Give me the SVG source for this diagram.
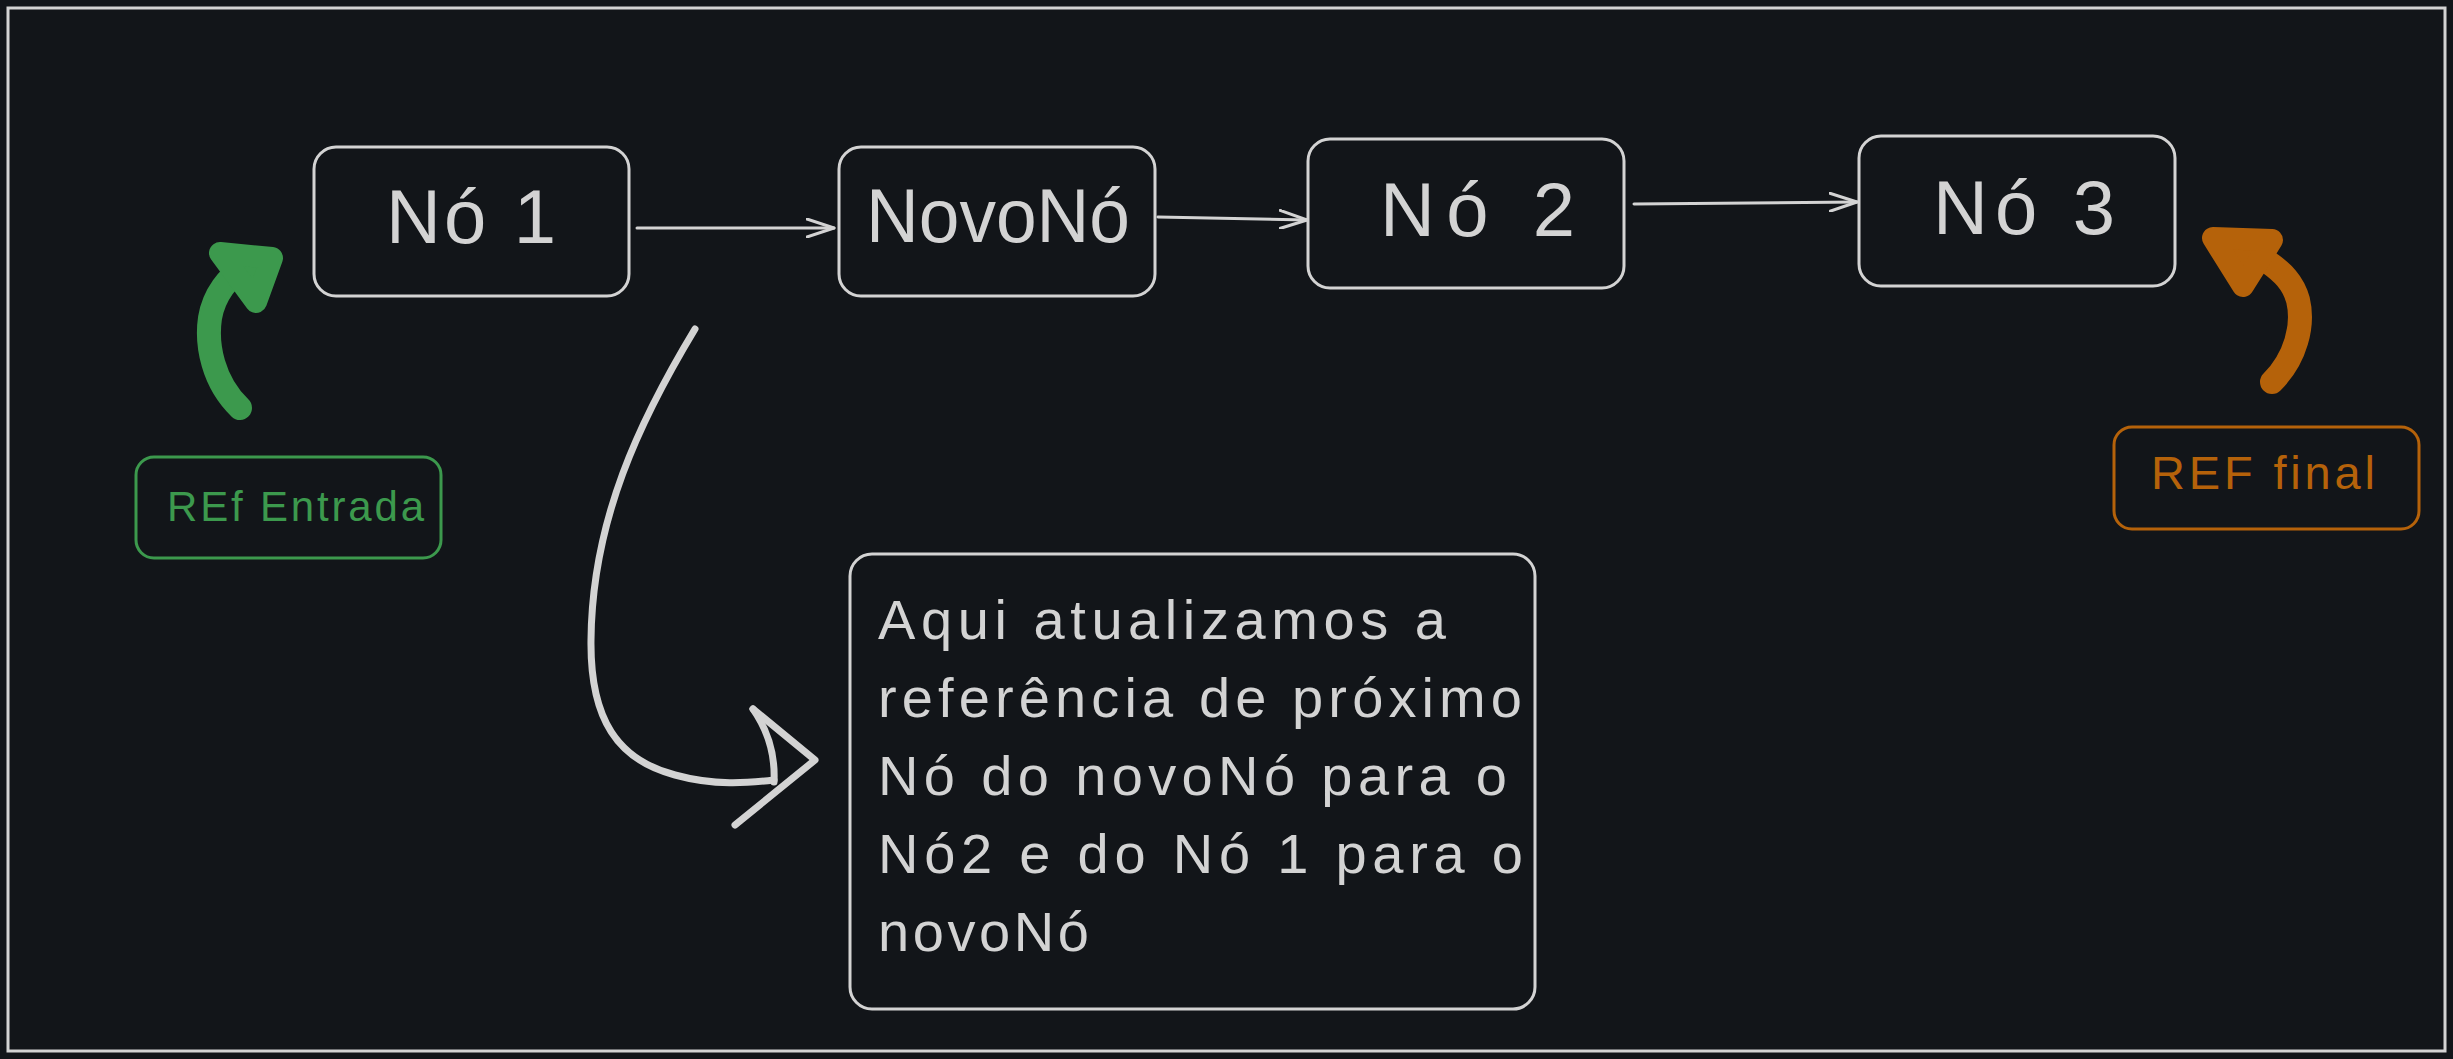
<svg xmlns="http://www.w3.org/2000/svg" width="2453" height="1059" viewBox="0 0 2453 1059">
  <defs>
    <style>
      .node { fill: #121519; stroke: #d3d3d3; stroke-width: 3; }
      .lbl { font-family: "Liberation Sans", Arial, sans-serif; fill: #d3d3d3; }
      .big { font-size: 76px; }
      .note { font-size: 56px; }
      .conn { fill: none; stroke: #d3d3d3; stroke-width: 3; stroke-linecap: round; }
      .thick { fill: none; stroke: #d3d3d3; stroke-width: 7; stroke-linecap: round; stroke-linejoin: round; }
    </style>
    <marker id="open" viewBox="0 0 30 20" refX="28" refY="10" markerWidth="30" markerHeight="20" markerUnits="userSpaceOnUse" orient="auto">
      <path d="M1,1 L28,10 L1,19" fill="none" stroke="#d3d3d3" stroke-width="3" stroke-linecap="round" stroke-linejoin="round"/>
    </marker>
  </defs>
  <rect x="0" y="0" width="2453" height="1059" fill="#121519"/>
  <rect x="8" y="8" width="2437" height="1043" fill="none" stroke="#d3d3d3" stroke-width="3"/>

  <g id="connectors">
    <path class="conn" d="M637,228 L834,228" marker-end="url(#open)"/>
    <path class="conn" d="M1158,217 L1307,220" marker-end="url(#open)"/>
    <path class="conn" d="M1634,204 L1857,202" marker-end="url(#open)"/>
    <g id="note-arrow">
      <path class="thick" d="M695,329 C640,420 592,520 591,640 C590,720 618,760 675,775 C715,786 748,783 774,780"/>
      <path class="thick" d="M753,709 L815,760 L735,825"/>
      <path class="thick" d="M753,709 Q776,742 774,782"/>
    </g>
    <g id="entry-arrow">
      <path d="M240,408 C213,382 206,345 210,318 C214,294 228,278 246,264" fill="none" stroke="#3c994d" stroke-width="24" stroke-linecap="round"/>
      <polygon points="220,253 272,258 256,302" fill="#3c994d" stroke="#3c994d" stroke-width="22" stroke-linejoin="round"/>
    </g>
    <g id="final-arrow">
      <path d="M2272,382 C2296,358 2304,325 2298,300 C2293,282 2282,272 2268,262" fill="none" stroke="#b5620a" stroke-width="24" stroke-linecap="round"/>
      <polygon points="2213,238 2272,240 2243,286" fill="#b5620a" stroke="#b5620a" stroke-width="22" stroke-linejoin="round"/>
    </g>
  </g>

  <g id="no1">
    <rect class="node" x="314" y="147" width="315" height="149" rx="22"/>
    <text class="lbl big" x="386" y="243" textLength="170" lengthAdjust="spacing">Nó 1</text>
  </g>
  <g id="novono">
    <rect class="node" x="839" y="147" width="316" height="149" rx="22"/>
    <text class="lbl big" x="866" y="242" textLength="264" lengthAdjust="spacingAndGlyphs">NovoNó</text>
  </g>
  <g id="no2">
    <rect class="node" x="1308" y="139" width="316" height="149" rx="22"/>
    <text class="lbl big" x="1380" y="236" textLength="195" lengthAdjust="spacing">Nó 2</text>
  </g>
  <g id="no3">
    <rect class="node" x="1859" y="136" width="316" height="150" rx="22"/>
    <text class="lbl big" x="1933" y="234" textLength="182" lengthAdjust="spacing">Nó 3</text>
  </g>

  <g id="ref-entrada">
    <rect x="136" y="457" width="305" height="101" rx="18" fill="none" stroke="#3c994d" stroke-width="3"/>
    <text x="167" y="521" font-family="Liberation Sans, Arial, sans-serif" font-size="42" fill="#3c994d" textLength="257" lengthAdjust="spacing">REf Entrada</text>
  </g>
  <g id="ref-final">
    <rect x="2114" y="427" width="305" height="102" rx="18" fill="none" stroke="#b5620a" stroke-width="3"/>
    <text x="2151" y="489" font-family="Liberation Sans, Arial, sans-serif" font-size="47" fill="#b5620a" textLength="224" lengthAdjust="spacing">REF final</text>
  </g>

  <g id="nota">
    <rect class="node" x="850" y="554" width="685" height="455" rx="22"/>
    <text class="lbl note" x="878" y="639" textLength="568" lengthAdjust="spacing">Aqui atualizamos a</text>
    <text class="lbl note" x="878" y="717" textLength="644" lengthAdjust="spacing">referência de próximo</text>
    <text class="lbl note" x="878" y="795" textLength="629" lengthAdjust="spacing">Nó do novoNó para o</text>
    <text class="lbl note" x="878" y="873" textLength="645" lengthAdjust="spacing">Nó2 e do Nó 1 para o</text>
    <text class="lbl note" x="878" y="951" textLength="211" lengthAdjust="spacing">novoNó</text>
  </g>
</svg>
